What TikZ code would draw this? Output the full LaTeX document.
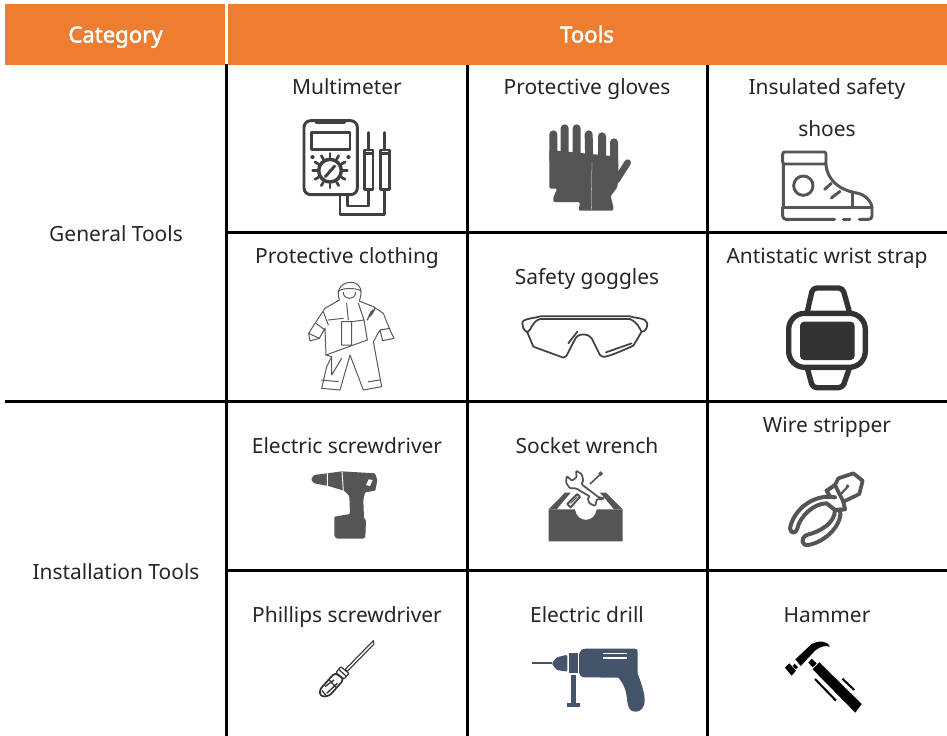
\documentclass[tikz,border=0pt]{standalone}
\usepackage{fontspec}
\usetikzlibrary{calc}
\setmainfont{Noto Sans}
\newfontfamily\hbold[FakeBold=2.2]{Noto Sans}
\definecolor{hdr}{HTML}{ED7D31}
\definecolor{ic}{HTML}{404040}
\definecolor{icf}{HTML}{555555}
\definecolor{icd}{HTML}{333333}
\definecolor{drillc}{HTML}{44546A}
\tikzset{
 rule/.style={line width=2.25pt,black},
 cell/.style={font=\fontsize{15.7}{18}\selectfont,text=black!85,inner sep=0pt,anchor=base},
 head/.style={font=\hbold\fontsize{16.6}{18}\selectfont,text=white,inner sep=0pt,anchor=base},
 ol/.style={draw=ic,line width=2.2pt,line join=round,line cap=round},
 thin/.style={draw=black!65,line width=.75pt,line join=round,line cap=round},
}
\begin{document}
\begin{tikzpicture}[x=.75pt,y=-.75pt]
\useasboundingbox (0,0) rectangle (947,736);
\fill[white] (0,0) rectangle (947,736);
% header
\fill[hdr] (5,4) rectangle (947,65);
\draw[white,line width=2.2pt] (226.5,4) -- (226.5,65);
\node[head] (hcat) at (115.5,42.5) {Category};
\node[head] (htools) at (587,42.5) {Tools};
% grid
\coordinate (v1t) at (226.5,64); \coordinate (v1b) at (226.5,736);
\coordinate (v2t) at (467,65); \coordinate (v2b) at (467,736);
\coordinate (v3t) at (707,65); \coordinate (v3b) at (707,736);
\draw[rule] (v1t)--(v1b); \draw[rule] (v2t)--(v2b); \draw[rule] (v3t)--(v3b);
\draw[rule] (226,232.5)--(947,232.5);
\draw[rule] (5,401.5)--(947,401.5);
\draw[rule] (226,570.5)--(947,570.5);
% text
\node[cell] (gen) at (116,241) {General Tools};
\node[cell] (ins) at (116,579) {Installation Tools};
\node[cell] (a1) at (347,94) {Multimeter};
\node[cell] (a2) at (587,94) {Protective gloves};
\node[cell] (a3) at (827,94) {Insulated safety};
\node[cell] (a3b) at (827,136) {shoes};
\node[cell] (b1) at (347,263) {Protective clothing};
\node[cell] (b2) at (587,284) {Safety goggles};
\node[cell] (b3) at (827,263) {Antistatic wrist strap};
\node[cell] (c1) at (347,453) {Electric screwdriver};
\node[cell] (c2) at (587,453) {Socket wrench};
\node[cell] (c3) at (827,432) {Wire stripper};
\node[cell] (d1) at (347,622) {Phillips screwdriver};
\node[cell] (d2) at (587,622) {Electric drill};
\node[cell] (d3) at (827,622) {Hammer};
% Multimeter (zoom origin 280,100, /3)
\begin{scope}[shift={(280,100)},x=.25pt,y=-.25pt]
 \draw[ol,rounded corners=5pt] (72,62) rectangle (232,284);
 \draw[ol,line width=3pt] (110,65)--(192,65);
 \draw[ol] (95,98) rectangle (210,148);
 \draw[ol,line width=2.6pt] (150,212) circle[radius=34];
 \foreach \a in {0,30,...,330}{\draw[ol,line width=2pt] ($(150,212)+(\a:40)$) -- ($(150,212)+(\a:52)$);}
 \draw[ol] (136,230)--(164,198);
 \draw[ol,line width=3pt] (97,172)--(98,172) (205,172)--(206,172);
 \draw[ol] (253,150) rectangle (279,268);
 \draw[ol] (302,150) rectangle (328,268);
 \draw[ol] (266,98)--(266,150) (314,98)--(314,150);
 \draw[ol] (253,160)--(279,160) (302,160)--(328,160);
 \draw[ol] (266,268)--(266,318)--(203,318)--(203,284);
 \draw[ol] (314,268)--(314,344)--(180,344)--(180,284);
\end{scope}
% Gloves
\begin{scope}[shift={(280,100)},x=.25pt,y=-.25pt]
 \fill[icf,rounded corners=1pt] (808,150) -- (1014,170) -- (1016,225) -- (1012,262) -- (992,288) -- (1000,320) -- (1000,332) -- (896,332) -- (900,306) -- (820,306) -- (820,292) -- (832,266) -- (808,266) -- cycle;
 \draw[icf,line width=6pt,line cap=round] (820,103)--(820,180) (854,85)--(854,180) (890,85)--(890,180) (926,103)--(928,200) (966,109)--(966,200) (1002,127)--(1002,200);
 \draw[icf,line width=5pt,line cap=round] (1043,188)--(1010,240);
 \draw[white,line width=.2pt] (936,185)--(934,330);
\end{scope}
% Shoe (760,140)
\begin{scope}[shift={(760,140)},x=.25pt,y=-.25pt]
 \draw[ol,draw=icf,rounded corners=1.5pt] (68,36) rectangle (198,72);
 \draw[ol,draw=icf] (70,72)--(70,202) (198,72) .. controls (200,120) and (240,150) .. (285,158) .. controls (320,162) and (336,190) .. (336,204);
 \draw[ol,draw=icf] (130,137) circle[radius=29];
 \draw[ol,draw=icf] (194,148)--(214,130) (214,174)--(240,154);
 \draw[ol,draw=icf] (278,158)--(278,200);
 \draw[ol,draw=icf] (68,202)--(336,202);
 \draw[ol,draw=icf,rounded corners=2.5pt] (224,238)--(68,238)--(68,204);
 \draw[ol,draw=icf] (250,238)--(270,238);
 \draw[ol,draw=icf,rounded corners=2.5pt] (298,238)--(336,238)--(336,204);
\end{scope}
% Protective suit (290,275)
\begin{scope}[shift={(290,275)},x=.25pt,y=-.25pt]
 \draw[thin] (148,75) .. controls (135,40) and (160,22) .. (182,22) .. controls (205,22) and (222,40) .. (208,78);
 \draw[thin] (146,48) .. controls (160,38) and (198,38) .. (214,48) (160,52) .. controls (160,75) and (195,78) .. (197,52);
 \draw[thin] (148,75)--(105,100)--(75,145)--(56,175)--(60,198)--(88,190)--(105,160)--(108,240)--(125,245)--(110,275)--(95,340)--(150,345)--(180,240)--(220,345)--(275,335)--(250,200)--(270,165)--(278,197)--(312,190)--(300,165)--(280,115)--(250,95)--(208,78);
 \draw[thin] (56,175)--(88,190) (78,145)--(105,165) (270,165)--(300,160) (170,85)--(175,135) (155,140)--(155,210)--(185,210)--(185,140)--cycle (185,140)--(222,135)--(232,195)--(108,240);
 \draw[thin] (100,110)--(115,150) (125,245)--(125,300)--(155,250) (95,315)--(145,320) (235,320)--(270,315) (115,135)--(160,130) (205,85)--(222,135);
 \draw[thin,line width=1pt] (238,125) .. controls (245,120) and (250,110) .. (255,100) (234,130)--(248,105) (232,135)--(243,110);
\end{scope}
% Goggles
\begin{scope}[shift={(290,275)},x=.25pt,y=-.25pt]
 \draw[ol,line width=1.3pt] (697,145) .. controls (695,130) and (735,130) .. (750,124) -- (1020,124) .. controls (1035,130) and (1070,128) .. (1072,145) .. controls (1072,165) and (1062,170) .. (1055,170) .. controls (1045,155) and (1045,145) .. (1020,132) -- (750,132) .. controls (725,140) and (725,165) .. (712,172) .. controls (700,165) and (697,155) .. (697,145) -- cycle;
 \draw[ol,line width=1.3pt] (712,172) -- (730,215) -- (820,248) .. controls (832,248) and (835,225) .. (860,185) .. controls (870,175) and (895,175) .. (905,190) -- (930,240) .. controls (938,250) and (950,248) .. (1030,212) -- (1055,170);
 \draw[ol,line width=1.3pt] (835,205)--(862,170) (948,232)--(1025,205);
\end{scope}
% Watch (770,280)
\begin{scope}[shift={(770,280)},x=.25pt,y=-.25pt]
 \draw[draw=icd,line width=4pt,line join=round,rounded corners=3pt] (112,95) -- (128,24) -- (218,24) -- (238,95);
 \draw[draw=icd,line width=4pt,line join=round,rounded corners=3pt] (112,265) -- (128,323) -- (218,323) -- (238,265);
 \draw[draw=icd,line width=4pt,rounded corners=12pt,fill=white] (56,100) rectangle (286,262);
 \fill[icd,rounded corners=3pt] (90,125) rectangle (254,240);
\end{scope}
% Electric screwdriver (290,460)
\begin{scope}[shift={(290,460)},x=.25pt,y=-.25pt]
 \fill[icf,rounded corners=.8pt] (63,58) -- (72,45) -- (112,40) -- (155,34) -- (255,40) -- (262,60) -- (256,92) -- (225,97) -- (220,120) -- (222,175) -- (228,180) -- (226,232) -- (220,236) -- (140,236) -- (133,228) -- (133,170) -- (180,162) -- (178,108) -- (162,92) -- (115,78) -- (72,70) -- cycle;
 \fill[white] (228,75) -- (236,58) -- (248,60) -- (240,78) -- cycle;
 \draw[white,line width=.7pt] (112,40)--(112,78) (156,34)--(160,92);
\end{scope}
% Socket wrench box
\begin{scope}[shift={(290,460)},x=.25pt,y=-.25pt]
 \fill[icf] (776,148) -- (855,148) .. controls (860,190) and (915,190) .. (920,148) -- (998,148) -- (998,244) -- (776,244) -- cycle;
 \fill[icf] (776,148) -- (825,98) -- (842,98) -- (800,148) -- cycle;
 \fill[icf] (998,148) -- (948,98) -- (930,98) -- (972,148) -- cycle;
 % wrench
 \draw[icf,line width=1.3pt,fill=white,line join=round,rounded corners=.8pt] (858,32) -- (875,42) -- (880,62) -- (874,72) -- (926,112) -- (942,114) -- (937,118) -- (920,118) -- (916,138) -- (898,130) -- (893,114) -- (900,110) -- (858,85) -- (840,85) -- (828,68) -- (830,48) -- (846,62) -- (860,52) -- cycle;
 \draw[icf,line width=1.2pt] (900,72)--(932,42);
 \draw[icf,line width=1.2pt,fill=white] (932,41) circle[radius=4];
 \draw[icf,line width=1.5pt,fill=white,line join=round] (832,132)--(862,102)--(870,110)--(842,142)--cycle;
 \draw[icf,line width=.6pt] (842,130)--(862,110);
\end{scope}
% Wire stripper (770,460)
\begin{scope}[shift={(770,460)},x=.25pt,y=-.25pt]
 \draw[ol,line width=2.8pt,draw=icf] (195,75) -- (205,55) -- (250,40) -- (278,62) -- (268,102) -- (220,125) -- cycle;
 \draw[ol,line width=1.6pt,draw=icf] (210,105) -- (235,78);
 \fill[icf] (232,78) circle[radius=5];
 \draw[ol,line width=3pt,draw=icf] (170,92) -- (195,75) (220,125) -- (225,148) -- (200,150);
 \draw[ol,line width=3pt,draw=icf] (170,92) -- (180,110);
 \draw[ol,line width=3pt,draw=icf] (195,112) .. controls (130,100) and (70,150) .. (60,205) .. controls (62,222) and (78,222) .. (82,205) .. controls (90,170) and (130,130) .. (170,130) -- (195,150) .. controls (195,190) and (150,215) .. (110,225) .. controls (90,235) and (95,258) .. (115,255) .. controls (170,245) and (220,190) .. (210,148);
\end{scope}
% Phillips (300,630)
\begin{scope}[shift={(300,630)},x=.25pt,y=-.25pt]
 \draw[icd,line width=.8pt,line join=round] (220,32) -- (136,118) -- (142,124) -- (222,42) -- cycle;
 \draw[icd,line width=.9pt,fill=white,rounded corners=.8pt] (122,110) -- (147,130) -- (132,147) -- (108,128) -- cycle;
 \draw[icd,line width=.9pt] (116,118)--(138,138);
 \draw[icd,line width=1.3pt,fill=white,rounded corners=2.5pt] (105,128) -- (132,148) -- (88,198) -- (62,200) -- (58,180) -- cycle;
 \draw[icd,line width=1pt] (75,170)--(102,150) (80,190)--(112,160) (66,182)--(78,196) (88,150)--(108,172);
\end{scope}
% Electric drill
\begin{scope}[shift={(300,630)},x=.25pt,y=-.25pt]
 \fill[drillc] (697,96) rectangle (757,103);
 \fill[drillc,rounded corners=1pt] (755,100) -- (770,82) -- (802,74) -- (802,125) -- (770,120) -- cycle;
 \fill[drillc] (806,70) rectangle (834,128);
 \fill[drillc] (837,75) .. controls (840,62) and (845,56) .. (858,56) -- (1003,56) .. controls (1013,56) and (1013,62) .. (1013,68) -- (1013,130) .. controls (1020,150) and (1034,185) .. (1034,210) .. controls (1034,235) and (1020,245) .. (1008,245) .. controls (990,245) and (985,235) .. (982,215) .. controls (980,190) and (975,165) .. (955,143) -- (855,142) .. controls (845,142) and (837,136) .. (837,128) -- cycle;
 \fill[drillc] (813,134) rectangle (829,220);
 \fill[drillc] (800,220) rectangle (840,231);
 \fill[white] (910,68) rectangle (982,73);
 \fill[white] (910,81) rectangle (982,87);
\end{scope}
% Hammer (770,630)
\begin{scope}[shift={(770,630)},x=.25pt,y=-.25pt]
 \fill[black] (45,113) -- (58,100) -- (78,122) -- (65,137) -- cycle;
 \fill[black] (68,108) -- (74,101) -- (84,111) -- (78,118) -- cycle;
 \fill[black] (76,88) -- (125,42) .. controls (145,32) and (170,30) .. (180,50) .. controls (165,45) and (150,50) .. (135,62) -- (92,108) -- cycle;
 \fill[black] (115,98) -- (125,86) -- (140,100) -- (128,112) -- cycle;
 \fill[black] (148,97) -- (275,222) -- (256,248) -- (128,118) -- cycle;
 \draw[black,line width=1.5pt] (135,147)--(198,212) (217,146)--(253,180);
\end{scope}
\end{tikzpicture}
\end{document}
